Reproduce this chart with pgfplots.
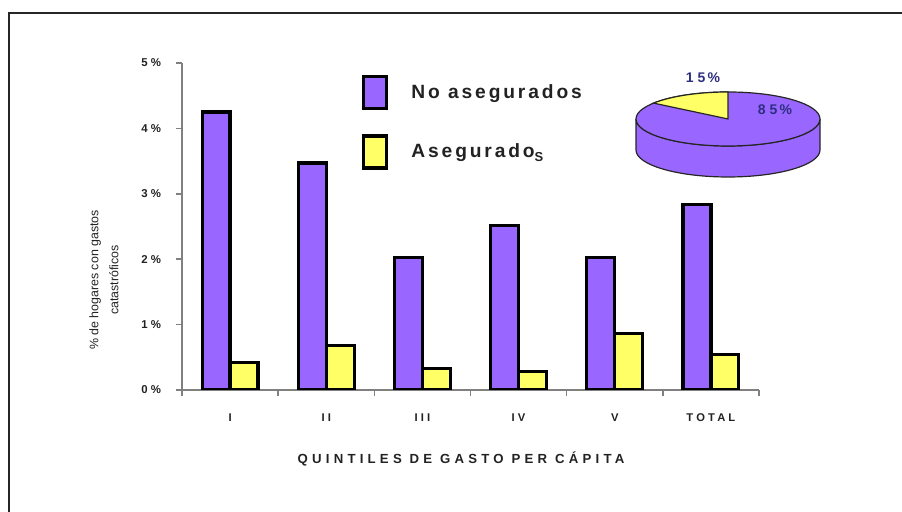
\documentclass[border=0pt]{standalone}
\usepackage{pgfplots}
\pgfplotsset{compat=1.18}
\usepackage{fontspec}
\setmainfont{Liberation Sans}
\newfontfamily\spaced[LetterSpace=15]{Liberation Sans}
\newfontfamily\ticksp[LetterSpace=28]{Liberation Sans}
\newfontfamily\widespaced[LetterSpace=32]{Liberation Sans}

\definecolor{noaseg}{HTML}{9966FF}
\definecolor{aseg}{HTML}{FFFF66}
\definecolor{axisgray}{HTML}{808080}
\definecolor{piefont}{HTML}{2E2E80}
\definecolor{txt}{HTML}{222222}

% share of insured / uninsured households (pie)
\def\pieAseg{15}
\def\pieNoAseg{85}

\begin{document}
\begin{tikzpicture}
% page frame and fixed canvas (1 unit = 0.5pt)
\begin{scope}[x=0.5pt,y=0.5pt]
  \useasboundingbox (0,0) rectangle (902,512);
  \draw[line width=1pt, black!85] (9,0) -- (9,499) -- (902,499);
\end{scope}

\begin{axis}[
  at={(91pt,61pt)}, anchor=south west,
  scale only axis,
  width=288.5pt, height=163.5pt,
  ymin=0, ymax=5,
  xmin=-0.5, xmax=5.5,
  axis x line=bottom, axis y line=left,
  axis line style={-, axisgray, line width=0.75pt},
  tick style={axisgray, line width=0.75pt},
  tick align=outside,
  major tick length=3pt,
  ytick={0,1,2,3,4,5},
  yticklabels={0 \%,1 \%,2 \%,3 \%,4 \%,5 \%},
  yticklabel style={font=\fontsize{5.7}{6}\selectfont\bfseries, text=txt, xshift=-4pt},
  xtick={0,1,2,3,4,5},
  xticklabels={I,II,III,IV,V,TOTAL},
  major x tick style={draw=none},
  minor xtick={-0.5,0.5,1.5,2.5,3.5,4.5,5.5},
  minor tick length=3pt,
  minor x tick style={axisgray, line width=0.75pt},
  xticklabel style={font=\ticksp\fontsize{5.6}{6}\selectfont\bfseries, text=txt, yshift=-5.5pt},
  ybar, bar width=0.29,
  legend style={at={(axis cs:1.37,4.82)}, anchor=north west, draw=none, fill=none,
    inner sep=0pt, row sep=12pt,
    font=\spaced\fontsize{9.6}{11}\selectfont\bfseries, text=txt,
    /tikz/every odd column/.append style={column sep=9.5pt}},
  legend cell align=left,
  legend image code/.code={\draw[#1, line width=1.6pt] (0pt,-8pt) rectangle (11.5pt,8pt);},
]
\addplot[fill=noaseg, draw=black, line width=1.6pt, bar shift=-0.145]
  coordinates {(0,4.25) (1,3.47) (2,2.02) (3,2.51) (4,2.02) (5,2.84)};
\addlegendentry{No asegurados}
\addplot[fill=aseg, draw=black, line width=1.6pt, bar shift=0.145]
  coordinates {(0,0.42) (1,0.68) (2,0.33) (3,0.28) (4,0.86) (5,0.54)};
\addlegendentry{Asegurado\raisebox{-0.45ex}{\fontsize{6.5}{7}\selectfont S}}
\end{axis}

\begin{scope}[x=0.5pt,y=0.5pt]
  % axis titles
  \node[font=\widespaced\fontsize{6.6}{8}\selectfont\bfseries, text=txt] at (461,53)
    {QUINTILES DE GASTO PER CÁPITA};
  \node[rotate=90, align=center, font=\fontsize{6.2}{10}\selectfont, text=txt] at (104,232)
    {\% de hogares con gastos\\catastróficos};

  % 3D pie: uninsured vs insured households
  \pgfmathsetmacro{\angAseg}{360*\pieAseg/(\pieAseg+\pieNoAseg)}
  \def\cx{728}\def\cy{393}
  % side wall
  \filldraw[fill=noaseg, draw=black!85, line width=0.6pt]
    (\cx-92,\cy) -- (\cx-92,\cy-31)
    arc[start angle=180, end angle=360, x radius=46pt, y radius=13.5pt]
    -- (\cx+92,\cy)
    arc[start angle=0, end angle=-180, x radius=46pt, y radius=13.5pt] -- cycle;
  % top face
  \filldraw[fill=noaseg, draw=black!85, line width=0.6pt]
    (\cx,\cy) ellipse[x radius=46pt, y radius=13.5pt];
  \filldraw[fill=aseg, draw=black!85, line width=0.6pt]
    (\cx,\cy) -- (\cx,\cy+27)
    arc[start angle=90, end angle=90+\angAseg, x radius=46pt, y radius=13.5pt] -- cycle;
  \node[font=\ticksp\fontsize{7}{8}\selectfont\bfseries, text=piefont] at (703,434) {\pieAseg\,\%};
  \node[font=\ticksp\fontsize{7}{8}\selectfont\bfseries, text=piefont] at (775,402) {\pieNoAseg\,\%};
\end{scope}
\end{tikzpicture}
\end{document}
